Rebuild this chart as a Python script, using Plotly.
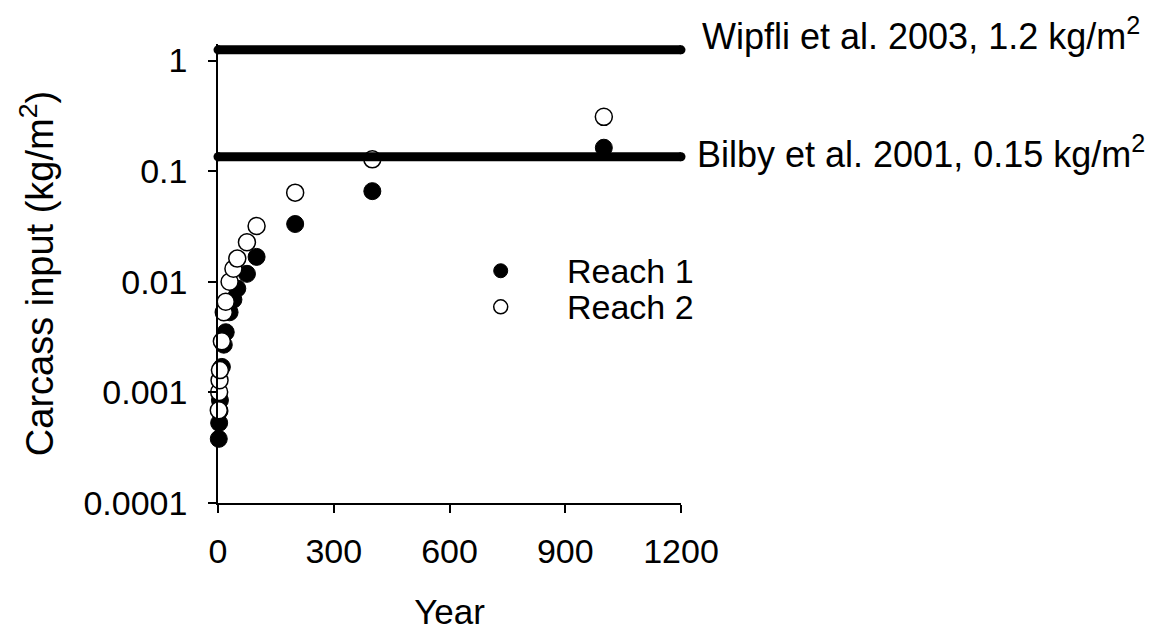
import math
import plotly.graph_objects as go

# ---- data ----
years = [2, 3, 4, 5, 10, 15, 20, 30, 40, 50, 75, 100, 200, 400, 1000]
reach1 = [0.00038, 0.00053, 0.00068, 0.00085, 0.0017, 0.0027, 0.0035, 0.0053,
          0.0069, 0.0087, 0.0118, 0.0168, 0.0333, 0.066, 0.163]
reach2 = [0.00069, 0.00101, 0.00129, 0.00159, 0.0029, 0.0053, 0.0066, 0.0100,
          0.0131, 0.0162, 0.0228, 0.032, 0.064, 0.128, 0.31]

ref_x = [0, 1200]
wipfli_y = [1.25, 1.25]
bilby_y = [0.135, 0.135]
wipfli_label = "Wipfli et al. 2003, 1.2 kg/m<sup>2</sup>"
bilby_label = "Bilby et al. 2001, 0.15 kg/m<sup>2</sup>"

x_ticks = [0, 300, 600, 900, 1200]
y_ticks = [0.0001, 0.001, 0.01, 0.1, 1]
y_ticktext = ["0.0001", "0.001", "0.01", "0.1", "1"]

series_names = ["Reach 1", "Reach 2"]

FONT = "Liberation Sans, Arial, Helvetica, sans-serif"
FS = 34

fig = go.Figure()

# data points
fig.add_trace(go.Scatter(
    x=years, y=reach1, mode="markers", name=series_names[0],
    marker=dict(symbol="circle", size=17, color="black",
                line=dict(color="black", width=1)),
    cliponaxis=False, showlegend=False))
fig.add_trace(go.Scatter(
    x=years, y=reach2, mode="markers", name=series_names[1],
    marker=dict(symbol="circle", size=17, color="white",
                line=dict(color="black", width=1.5)),
    cliponaxis=False, showlegend=False))

# reference lines (drawn on top), with round ends
for yy in (wipfli_y, bilby_y):
    fig.add_trace(go.Scatter(
        x=ref_x, y=yy, mode="lines+markers",
        line=dict(color="black", width=9),
        marker=dict(size=9, color="black"),
        cliponaxis=False, showlegend=False, hoverinfo="skip"))

# manual legend on an overlay axis with a 0..1 range
leg_x = [0.6106, 0.6106]
leg_y = [0.506, 0.4273]
fig.add_trace(go.Scatter(
    x=[leg_x[0]], y=[leg_y[0]], xaxis="x2", yaxis="y2", mode="markers",
    marker=dict(size=14, color="black", line=dict(color="black", width=1)),
    showlegend=False, hoverinfo="skip"))
fig.add_trace(go.Scatter(
    x=[leg_x[1]], y=[leg_y[1]], xaxis="x2", yaxis="y2", mode="markers",
    marker=dict(size=14, color="white", line=dict(color="black", width=1.5)),
    showlegend=False, hoverinfo="skip"))
for name, ly in zip(series_names, leg_y):
    fig.add_annotation(x=0.7495, y=ly, xref="x2", yref="y2", text=name,
                       showarrow=False, xanchor="left", yanchor="middle",
                       font=dict(family=FONT, size=34, color="black"))

# reference line labels (log axis: annotation y given as log10)
fig.add_annotation(x=1200, y=math.log10(wipfli_y[0]), xref="x", yref="y",
                   yanchor="bottom", xanchor="left", xshift=19, yshift=-9,
                   text=wipfli_label, showarrow=False,
                   font=dict(family=FONT, size=36, color="black"))
fig.add_annotation(x=1200, y=math.log10(bilby_y[0]), xref="x", yref="y",
                   yanchor="middle", xanchor="left", xshift=14, yshift=5,
                   text=bilby_label, showarrow=False,
                   font=dict(family=FONT, size=36, color="black"))

# page body adds an 8px offset, so the figure is 8px smaller on each side
fig.update_layout(
    width=1151, height=629,
    margin=dict(l=210, r=478, t=36, b=132),
    paper_bgcolor="white", plot_bgcolor="white",
    font=dict(family=FONT, size=FS, color="black"),
    showlegend=False,
    xaxis=dict(
        range=[0, 1200], tickvals=x_ticks, ticktext=[str(v) for v in x_ticks],
        showline=True, linecolor="black", linewidth=1.5,
        ticks="outside", ticklen=8, tickwidth=1.5, tickcolor="black",
        showgrid=False, zeroline=False, ticklabelstandoff=9,
        title=dict(text="Year", standoff=31, font=dict(size=35)),
        tickfont=dict(size=FS)),
    yaxis=dict(
        type="log", range=[-4, 0.15], tickvals=y_ticks, ticktext=y_ticktext,
        showline=True, linecolor="black", linewidth=1.5,
        ticks="outside", ticklen=8, tickwidth=1.5, tickcolor="black",
        showgrid=False, zeroline=False, ticklabelstandoff=14,
        title=dict(text="Carcass input (kg/m<sup>2</sup>)", standoff=18,
                   font=dict(size=38)),
        tickfont=dict(size=FS)),
    xaxis2=dict(overlaying="x", range=[0, 1], visible=False),
    yaxis2=dict(overlaying="y", range=[0, 1], visible=False),
)

fig.write_html("out.html")
